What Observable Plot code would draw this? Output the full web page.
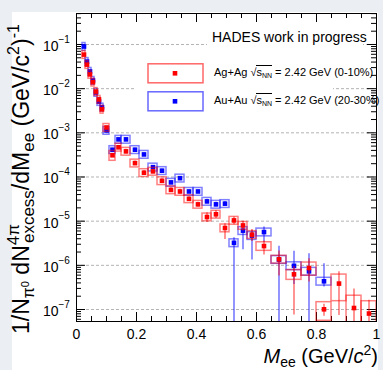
<!DOCTYPE html>
<html><head><meta charset="utf-8">
<script src="https://cdn.jsdelivr.net/npm/d3@7"></script>
<script src="https://cdn.jsdelivr.net/npm/@observablehq/plot@0.6"></script>
<style>
html,body{margin:0;padding:0;background:#ebeff3;}
#wrap{position:relative;width:383px;height:370px;overflow:hidden;font-family:"Liberation Sans",Arial,Helvetica,sans-serif;}
#card{position:absolute;left:12px;top:12px;width:366px;height:358px;background:#fff;}
#chart{position:absolute;left:0;top:0;}
#over{position:absolute;left:0;top:0;}
.bg{position:absolute;background:#fff;}
.ltxt{position:absolute;font-size:11px;white-space:nowrap;color:#000;}
.ov{border-top:1px solid #000;padding-top:0px;}
.ltxt sub{font-size:7px;vertical-align:-2px;}
</style></head><body>
<div id="wrap">
  <div id="card"></div>
  <div id="chart"></div>
  <div class="bg" style="left:207px;top:27px;width:156px;height:22px;"></div>
  <div class="bg" style="left:135px;top:55px;width:198px;height:64px;"></div>
  <svg id="over" width="383" height="370"></svg>
  <div class="ltxt" style="left:214px;top:66px;">Ag+Ag <span>√<span class="ov">s<sub>NN</sub></span></span> = 2.42 GeV (0-10%)</div>
  <div class="ltxt" style="left:214px;top:94px;">Au+Au <span>√<span class="ov">s<sub>NN</sub></span></span> = 2.42 GeV (20-30%)</div>
</div>
<script>
// ---- data ----
const mass = [0.025,0.035,0.045,0.055,0.065,0.075,0.085,0.10,0.12,0.14,0.165,0.195,0.225,0.255,0.285,0.315,0.345,0.375,0.405,0.435,0.465,0.495,0.525,0.555,0.585,0.625,0.675,0.725,0.775,0.825,0.875,0.925,0.975];
const binWidth = [0.01,0.01,0.01,0.01,0.01,0.01,0.01,0.02,0.02,0.02,0.03,0.03,0.03,0.03,0.03,0.03,0.03,0.03,0.03,0.03,0.03,0.03,0.03,0.03,0.03,0.05,0.05,0.05,0.05,0.05,0.05,0.05,0.05];

const agagValue = [5.9e-2,3.5e-2,2.1e-2,1.4e-2,8.6e-3,5.7e-3,3.4e-3,1.32e-3,3.1e-4,4.7e-4,3.8e-4,2.06e-4,1.25e-4,1.34e-4,8.2e-5,5.1e-5,4.7e-5,3.2e-5,2.4e-5,1.24e-5,1.43e-5,7.0e-6,1.04e-5,8.0e-6,4.95e-6,2.73e-6,1.37e-6,6.25e-7,8.7e-7,1.01e-7,3.86e-7,1.08e-7,8.1e-8];
const agagStatLo = [0.03,0.03,0.03,0.03,0.03,0.03,0.03,0.03,0.08,0.08,0.12,0.12,0.12,0.12,0.12,0.12,0.12,0.12,0.12,0.25,0.2,0.45,0.2,0.25,0.3,0.37,0.58,0.88,0.52,0.3,0.81,0.97,1];
const agagStatHi = [0.03,0.03,0.03,0.03,0.03,0.03,0.03,0.03,0.08,0.08,0.12,0.12,0.12,0.12,0.12,0.12,0.12,0.12,0.12,0.25,0.2,0.25,0.2,0.25,0.3,0.3,0.55,0.5,0.62,0.3,0.85,1.7,1.0];
const agagSys = [0.2,0.2,0.2,0.2,0.2,0.2,0.2,0.2,0.25,0.2,0.2,0.2,0.2,0.2,0.2,0.2,0.2,0.2,0.2,0.2,0.2,0.2,0.2,0.2,0.2,0.22,0.2,0.25,0.33,0.45,0.6,0.9,0.9];

const auauValue = [9.0e-2,4.1e-2,2.45e-2,1.53e-2,8.2e-3,5.1e-3,3.8e-3,1.13e-3,4.15e-4,7.1e-4,7.1e-4,4.15e-4,3.24e-4,1.67e-4,1.39e-4,7.55e-5,9.4e-5,4.7e-5,4.7e-5,2.8e-5,2.4e-5,2.49e-5,3.23e-6,6.1e-6,4.7e-6,5.66e-6,1.35e-6,9.75e-7,7.3e-7,4.35e-7];
const auauStatLo = [0.03,0.03,0.03,0.03,0.03,0.03,0.03,0.03,0.06,0.06,0.08,0.08,0.08,0.08,0.08,0.08,0.08,0.08,0.08,0.12,0.12,0.12,1,0.63,0.72,0.41,1,0.62,1,0.26];
const auauStatHi = [0.03,0.03,0.03,0.03,0.03,0.03,0.03,0.03,0.06,0.06,0.08,0.08,0.08,0.08,0.08,0.08,0.08,0.08,0.08,0.12,0.12,0.12,0.3,0.2,0.3,0.3,1.0,1.15,1.5,1.5];
const auauSys = [0.2,0.2,0.2,0.2,0.2,0.2,0.2,0.2,0.2,0.2,0.2,0.2,0.2,0.2,0.2,0.2,0.2,0.2,0.2,0.2,0.2,0.2,0.2,0.2,0.2,0.2,0.2,0.2,0.2,0.2];

const xMajorTicks = [0,0.2,0.4,0.6,0.8,1];
const xTickLabels = ["0","0.2","0.4","0.6","0.8","1"];
const yDecades = [-7,-6,-5,-4,-3,-2,-1];
const yTickLabels = ["10","10","10","10","10","10","10"];
const yTickExps = ["\u22127","\u22126","\u22125","\u22124","\u22123","\u22122","\u22121"];

// ---- build ----
const yMin = 5.35e-8, yMax = 0.503;
const FLOOR = 1e-9;
function rows(val, lo, hi, sys) {
  return val.map((v, i) => ({
    m: mass[i], w: binWidth[i], v,
    e1: Math.max(v * (1 - lo[i]), FLOOR), e2: v * (1 + hi[i]),
    s1: Math.max(v * (1 - sys[i]), FLOOR), s2: v * (1 + sys[i])
  }));
}
const ag = rows(agagValue, agagStatLo, agagStatHi, agagSys);
const au = rows(auauValue, auauStatLo, auauStatHi, auauSys);

const xMinor = d3.range(0.05, 1.0001, 0.05).map(d => +d.toFixed(2)).filter(d => !xMajorTicks.some(t => Math.abs(t - d) < 1e-6));
const yMajor = yDecades.map(k => Math.pow(10, k));
const yMinor = [];
for (let k = -8; k <= -1; k++) for (let j = 2; j <= 9; j++) { const v = j * Math.pow(10, k); if (v > yMin && v < yMax) yMinor.push(v); }

const pxPerDec = 308 / Math.log10(yMax / yMin);
const pxPerX = 300;
const yUp = px => yMin * Math.pow(10, px / pxPerDec);
const yDown = px => yMax / Math.pow(10, px / pxPerDec);
const majL = 9, minL = 5;

const red = "#ff0000", blue = "#0000ff";
function series(data, color) {
  return [
    Plot.rect(data, {x1: d => d.m - d.w / 2, x2: d => d.m + d.w / 2, y1: "s1", y2: "s2", fill: "none", stroke: color, strokeOpacity: 0.5, strokeWidth: 1.5, clip: true}),
    Plot.ruleX(data, {x: "m", y1: "e1", y2: "e2", stroke: color, strokeOpacity: 0.7, strokeWidth: 1.2, clip: true}),
    Plot.dot(data, {x: "m", y: "v", symbol: "square", r: 2.6, fill: color, stroke: "none"})
  ];
}

const chart = Plot.plot({
  width: 383, height: 370,
  marginLeft: 76, marginRight: 7, marginTop: 13, marginBottom: 49,
  style: {background: "transparent", fontFamily: "Liberation Sans, Arial, sans-serif", overflow: "visible"},
  x: {domain: [0, 1], axis: null},
  y: {type: "log", domain: [yMin, yMax], axis: null},
  marks: [
    Plot.ruleY(yMajor, {y: d => d, stroke: "#b4b4b4", strokeDasharray: "3,2", strokeWidth: 1}),
    Plot.ruleX(xMajorTicks, {x: d => d, y1: yMin, y2: yUp(majL), stroke: "#000"}),
    Plot.ruleX(xMinor, {x: d => d, y1: yMin, y2: yUp(minL), stroke: "#000"}),
    Plot.ruleX(xMajorTicks, {x: d => d, y1: yMax, y2: yDown(majL), stroke: "#000"}),
    Plot.ruleX(xMinor, {x: d => d, y1: yMax, y2: yDown(minL), stroke: "#000"}),
    Plot.ruleY(yMajor, {y: d => d, x1: 0, x2: majL / pxPerX, stroke: "#000"}),
    Plot.ruleY(yMinor, {y: d => d, x1: 0, x2: minL / pxPerX, stroke: "#000"}),
    Plot.ruleY(yMajor, {y: d => d, x1: 1, x2: 1 - majL / pxPerX, stroke: "#000"}),
    Plot.ruleY(yMinor, {y: d => d, x1: 1, x2: 1 - minL / pxPerX, stroke: "#000"}),
    ...series(au, blue),
    ...series(ag, red),
    Plot.frame({stroke: "#000"}),
    Plot.text(xMajorTicks, {x: d => d, y: yMin, text: (d, i) => xTickLabels[i], dy: 13, fontSize: 14, fill: "#000", textAnchor: "middle"}),
    Plot.text(yMajor, {x: 0, y: d => d, text: (d, i) => yTickLabels[i], dx: -18, dy: 2, fontSize: 14, fill: "#000", textAnchor: "end"}),
    Plot.text(yMajor, {x: 0, y: d => d, text: (d, i) => yTickExps[i], dx: -18, dy: -5, fontSize: 10, fill: "#000", textAnchor: "start"})
  ]
});
document.getElementById("chart").appendChild(chart);

// ---- overlay: titles and legend ----
const ov = d3.select("#over");
ov.attr("font-family", "Liberation Sans, Arial, Helvetica, sans-serif");
ov.append("text").attr("x", 212).attr("y", 42).attr("font-size", 14).text("HADES work in progress");
const leg = [{c: red, y: 73.3}, {c: blue, y: 101.3}];
leg.forEach(l => {
  ov.append("rect").attr("x", 148).attr("y", l.y - 9.5).attr("width", 55).attr("height", 19)
    .attr("fill", "none").attr("stroke", l.c).attr("stroke-opacity", 0.6).attr("stroke-width", 1.5);
  ov.append("rect").attr("x", 172.7).attr("y", l.y - 2.3).attr("width", 4.6).attr("height", 4.6).attr("fill", l.c);
});
// x axis title
const xt = ov.append("text").attr("x", 378).attr("y", 363).attr("text-anchor", "end").attr("font-size", 20);
xt.append("tspan").attr("font-style", "italic").text("M");
xt.append("tspan").attr("font-size", 14).attr("dy", 4).text("ee");
xt.append("tspan").attr("dy", -4).text(" (GeV/");
xt.append("tspan").attr("font-style", "italic").text("c");
xt.append("tspan").attr("font-size", 14).attr("dy", -8).text("2");
xt.append("tspan").attr("dy", 8).text(")");
// y axis title
const yt = ov.append("text").attr("transform", "translate(29,334) rotate(-90)").attr("font-size", 23);
yt.append("tspan").text("1/N");
yt.append("tspan").attr("font-size", 16).attr("dy", 5).text("\u03c0");
yt.append("tspan").attr("font-size", 11).attr("dy", -5).text("0");
yt.append("tspan").attr("dy", 0).text(" dN");
yt.append("tspan").attr("font-size", 17).attr("dy", -10).text("4\u03c0");
yt.append("tspan").attr("font-size", 17).attr("dx", -19).attr("dy", 15).text("excess");
yt.append("tspan").attr("dy", -5).text("/dM");
yt.append("tspan").attr("font-size", 17).attr("dy", 5).text("ee");
yt.append("tspan").attr("dy", -5).text(" (GeV/c");
yt.append("tspan").attr("font-size", 16).attr("dy", -10).text("2");
yt.append("tspan").attr("dy", 10).text(")");
yt.append("tspan").attr("font-size", 16).attr("dy", -10).text("-1");
</script>
</body></html>
